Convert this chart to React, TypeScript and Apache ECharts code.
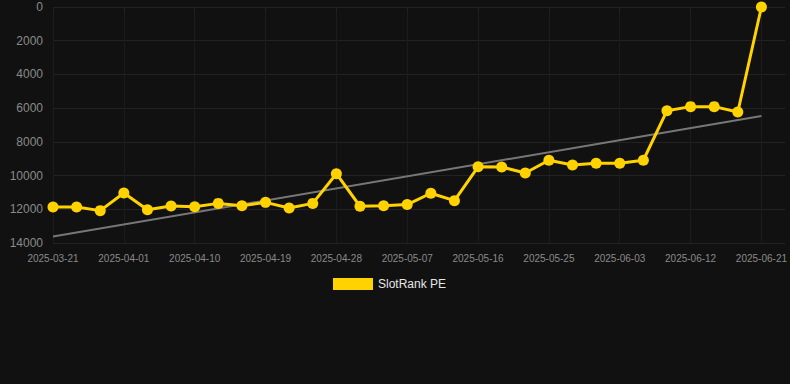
import React, { useEffect, useRef } from "react";
import * as echarts from "echarts";

const categories: string[] = [
  "2025-03-21", "2025-03-25", "2025-03-28", "2025-04-01", "2025-04-04", "2025-04-07",
  "2025-04-10", "2025-04-13", "2025-04-16", "2025-04-19", "2025-04-22", "2025-04-25",
  "2025-04-28", "2025-05-01", "2025-05-04", "2025-05-07", "2025-05-10", "2025-05-13",
  "2025-05-16", "2025-05-19", "2025-05-22", "2025-05-25", "2025-05-28", "2025-05-31",
  "2025-06-03", "2025-06-06", "2025-06-09", "2025-06-12", "2025-06-15", "2025-06-18",
  "2025-06-21",
];

const slotRankPE: number[] = [
  11860, 11860, 12080, 11030, 12030, 11810, 11850, 11650, 11790, 11590, 11920, 11650,
  9890, 11820, 11790, 11720, 11050, 11490, 9480, 9490, 9850, 9090, 9370, 9270,
  9270, 9090, 6150, 5910, 5910, 6230, 0,
];

const trendStart = 13620;
const trendEnd = 6470;

const yTicks = { min: 0, max: 14000, interval: 2000 };

export default function App() {
  const ref = useRef<HTMLDivElement>(null);
  useEffect(() => {
    if (!ref.current) return;
    const chart = echarts.init(ref.current, undefined, { renderer: "svg" });
    const trendData = categories.map((_, i) =>
      i === 0 ? trendStart : i === categories.length - 1 ? trendEnd : null
    );
    const font = "Liberation Sans, Arial, sans-serif";
    chart.setOption({
      animation: false,
      backgroundColor: "#111111",
      textStyle: { fontFamily: font },
      grid: { left: 53, right: 0, top: 7, bottom: 141 },
      legend: {
        top: 273,
        left: 328,
        itemWidth: 40,
        itemHeight: 12,
        itemGap: 10,
        textStyle: { color: "#e6e6e6", fontSize: 12, fontFamily: font },
        data: [{ name: "SlotRank PE", icon: "rect" }],
      },
      xAxis: {
        type: "category",
        data: categories,
        boundaryGap: false,
        max: 31.23,
        axisLine: { show: false },
        axisTick: { show: true, length: 5, lineStyle: { color: "#222" }, interval: 2 },
        axisLabel: { color: "#8a8a8a", fontSize: 10, interval: 2, margin: 10 },
        splitLine: { show: true, interval: 2, lineStyle: { color: "#1c1c1c", width: 1 } },
      },
      yAxis: {
        type: "value",
        inverse: true,
        min: yTicks.min,
        max: yTicks.max,
        interval: yTicks.interval,
        axisLine: { show: false },
        axisTick: { show: false },
        axisLabel: {
          color: "#8a8a8a",
          fontSize: 12,
          margin: 10,
          formatter: (v: number) => String(v),
        },
        splitLine: { lineStyle: { color: "#222222", width: 1 } },
      },
      series: [
        {
          name: "SlotRank PE",
          type: "line",
          data: slotRankPE,
          symbol: "circle",
          symbolSize: 11,
          itemStyle: { color: "#ffd200" },
          lineStyle: { color: "#ffd200", width: 3 },
          z: 3,
        },
        {
          name: "Trend",
          type: "line",
          data: trendData,
          connectNulls: true,
          showSymbol: false,
          symbol: "none",
          lineStyle: { color: "#777777", width: 2 },
          z: 2,
        },
      ],
    });
    return () => chart.dispose();
  }, []);
  return (
    <div
      ref={ref}
      style={{ position: "fixed", left: 0, top: 0, width: 790, height: 384 }}
    />
  );
}
